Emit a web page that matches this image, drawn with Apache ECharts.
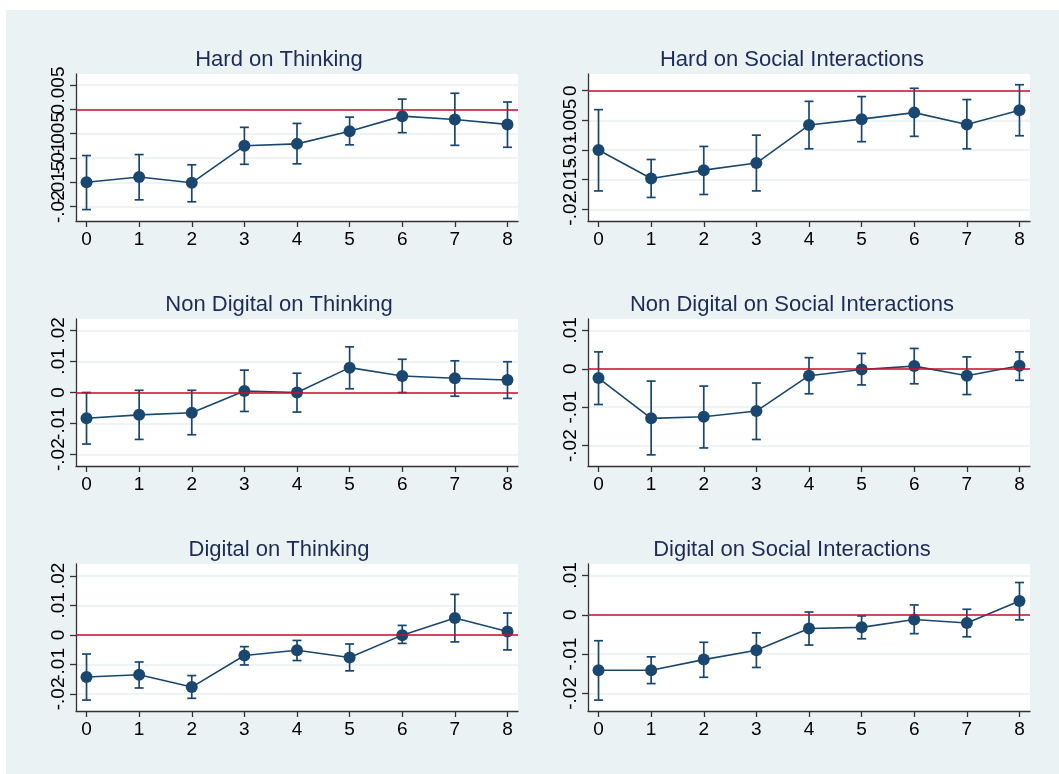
<!DOCTYPE html>
<html>
<head>
<meta charset="utf-8">
<style>
  html, body { margin: 0; padding: 0; background: #ffffff; }
  #chart { width: 1059px; height: 774px; }
</style>
<script src="https://cdn.jsdelivr.net/npm/echarts@6/dist/echarts.min.js"></script>
</head>
<body>
<div id="chart"></div>
<script>
// Event-time steps on the horizontal axis
const steps = [0, 1, 2, 3, 4, 5, 6, 7, 8];

// Panel titles
const titles = [
  'Hard on Thinking', 'Hard on Social Interactions',
  'Non Digital on Thinking', 'Non Digital on Social Interactions',
  'Digital on Thinking', 'Digital on Social Interactions'
];

// Point estimates and confidence bounds
const hardThinkingEst = [-0.0150, -0.0139, -0.0151, -0.0075, -0.0071, -0.0045, -0.0014, -0.0021, -0.0031];
const hardThinkingLo  = [-0.0206, -0.0186, -0.0190, -0.0113, -0.0112, -0.0073, -0.0048, -0.0074, -0.0078];
const hardThinkingHi  = [-0.0095, -0.0093, -0.0114, -0.0037, -0.0029, -0.0016, 0.0021, 0.0033, 0.0015];

const hardSocialEst = [-0.0100, -0.0148, -0.0134, -0.0122, -0.0058, -0.0048, -0.0037, -0.0057, -0.0033];
const hardSocialLo  = [-0.0169, -0.0180, -0.0175, -0.0169, -0.0098, -0.0086, -0.0077, -0.0098, -0.0076];
const hardSocialHi  = [-0.0032, -0.0116, -0.0094, -0.0075, -0.0018, -0.0010, 0.0004, -0.0015, 0.0010];

const nonDigitalThinkingEst = [-0.0083, -0.0072, -0.0065, 0.0005, 0.0000, 0.0080, 0.0053, 0.0046, 0.0040];
const nonDigitalThinkingLo  = [-0.0166, -0.0151, -0.0136, -0.0061, -0.0063, 0.0012, 0.0000, -0.0012, -0.0019];
const nonDigitalThinkingHi  = [0.0000, 0.0007, 0.0007, 0.0072, 0.0062, 0.0147, 0.0107, 0.0102, 0.0099];

const nonDigitalSocialEst = [-0.0024, -0.0129, -0.0125, -0.0110, -0.0018, -0.0002, 0.0007, -0.0018, 0.0008];
const nonDigitalSocialLo  = [-0.0093, -0.0224, -0.0206, -0.0184, -0.0065, -0.0042, -0.0039, -0.0067, -0.0030];
const nonDigitalSocialHi  = [0.0044, -0.0032, -0.0045, -0.0037, 0.0029, 0.0040, 0.0053, 0.0031, 0.0044];

const digitalThinkingEst = [-0.0143, -0.0135, -0.0177, -0.0070, -0.0052, -0.0077, -0.0001, 0.0057, 0.0011];
const digitalThinkingLo  = [-0.0221, -0.0180, -0.0215, -0.0102, -0.0087, -0.0122, -0.0029, -0.0024, -0.0051];
const digitalThinkingHi  = [-0.0065, -0.0092, -0.0138, -0.0040, -0.0019, -0.0031, 0.0032, 0.0137, 0.0074];

const digitalSocialEst = [-0.0141, -0.0141, -0.0114, -0.0090, -0.0035, -0.0032, -0.0012, -0.0021, 0.0035];
const digitalSocialLo  = [-0.0217, -0.0175, -0.0159, -0.0134, -0.0077, -0.0061, -0.0048, -0.0056, -0.0013];
const digitalSocialHi  = [-0.0066, -0.0107, -0.0070, -0.0046, 0.0007, -0.0003, 0.0025, 0.0014, 0.0082];

// Y tick labels per panel
const yTicks1 = [-0.02, -0.015, -0.01, -0.005, 0, 0.005];
const yTicks2 = [-0.02, -0.015, -0.01, -0.005, 0];
const yTicks3 = [-0.02, -0.01, 0, 0.01, 0.02];
const yTicks4 = [-0.02, -0.01, 0, 0.01];
const yTicks5 = [-0.02, -0.01, 0, 0.01, 0.02];
const yTicks6 = [-0.02, -0.01, 0, 0.01];

// Y ranges per panel
const yRange1 = [-0.02295, 0.00726];
const yRange2 = [-0.02197, 0.00281];
const yRange3 = [-0.02366, 0.02366];
const yRange4 = [-0.0253, 0.01296];
const yRange5 = [-0.0258, 0.0240];
const yRange6 = [-0.02447, 0.01291];

const panels = [
  { est: hardThinkingEst, lo: hardThinkingLo, hi: hardThinkingHi, ticks: yTicks1, range: yRange1 },
  { est: hardSocialEst, lo: hardSocialLo, hi: hardSocialHi, ticks: yTicks2, range: yRange2 },
  { est: nonDigitalThinkingEst, lo: nonDigitalThinkingLo, hi: nonDigitalThinkingHi, ticks: yTicks3, range: yRange3 },
  { est: nonDigitalSocialEst, lo: nonDigitalSocialLo, hi: nonDigitalSocialHi, ticks: yTicks4, range: yRange4 },
  { est: digitalThinkingEst, lo: digitalThinkingLo, hi: digitalThinkingHi, ticks: yTicks5, range: yRange5 },
  { est: digitalSocialEst, lo: digitalSocialLo, hi: digitalSocialHi, ticks: yTicks6, range: yRange6 }
];

const FONT = 'Liberation Sans, Arial, Helvetica, sans-serif';
const NAVY = '#1a476f';
const X_MIN = -0.2, X_MAX = 8.2;
const colLeft = [76, 588];
const colWidth = 442;
const rowTop = [74, 319, 564];
const rowHeight = 147;
const titleCenter = [279, 792];
const Y_LABEL_MARGIN = 8;

// Stata-style number format: drop the leading zero
function stataFmt(v) {
  const r = Math.round(v * 100000) / 100000;
  if (r === 0) return '0';
  return String(r).replace(/^(-?)0\./, '$1.');
}

const grids = [], xAxes = [], yAxes = [], series = [], titleList = [];

panels.forEach(function (p, i) {
  const col = i % 2, row = Math.floor(i / 2);
  grids.push({
    left: colLeft[col], top: rowTop[row], width: colWidth, height: rowHeight,
    show: true, backgroundColor: '#ffffff', borderWidth: 0, containLabel: false
  });
  titleList.push({
    text: titles[i], left: titleCenter[col], top: rowTop[row] - 25, textAlign: 'center',
    padding: 0,
    textStyle: { fontFamily: FONT, fontSize: 22, fontWeight: 'normal', color: '#1c2b58' }
  });
  xAxes.push({
    type: 'value', gridIndex: i, min: X_MIN, max: X_MAX,
    axisLine: { show: true, onZero: false, lineStyle: { color: '#333', width: 1.3 } },
    axisTick: { show: true, length: 6, customValues: steps, lineStyle: { color: '#333', width: 1.3 } },
    axisLabel: {
      customValues: steps, margin: 9, fontFamily: FONT, fontSize: 19, color: '#000',
      hideOverlap: false, showMinLabel: true, showMaxLabel: true
    },
    splitLine: { show: false }
  });
  yAxes.push({
    type: 'value', gridIndex: i, min: p.range[0], max: p.range[1],
    axisLine: { show: true, onZero: false, lineStyle: { color: '#333', width: 1.3 } },
    axisTick: { show: true, length: 6, customValues: p.ticks, lineStyle: { color: '#333', width: 1.3 } },
    // labels are placed as rotated text below so that overlapping ones all stay visible
    axisLabel: { show: false, customValues: p.ticks },
    splitLine: { show: true, lineStyle: { color: '#e8eff1', width: 1.6 } }
  });

  // zero reference line
  series.push({
    type: 'line', xAxisIndex: i, yAxisIndex: i, data: [], silent: true, z: 1,
    markLine: {
      silent: true, symbol: 'none', label: { show: false },
      lineStyle: { color: '#c8102e', width: 1.5, type: 'solid' },
      data: [{ yAxis: 0 }], animation: false
    }
  });

  // confidence intervals with caps
  series.push({
    type: 'custom', xAxisIndex: i, yAxisIndex: i, z: 3,
    data: steps.map(function (s, k) { return [s, p.lo[k], p.hi[k]]; }),
    renderItem: function (params, api) {
      const x = api.value(0);
      const a = api.coord([x, api.value(1)]);
      const b = api.coord([x, api.value(2)]);
      const cap = 4.5;
      const style = { stroke: NAVY, lineWidth: 1.7, fill: null };
      return {
        type: 'group',
        children: [
          { type: 'line', shape: { x1: a[0], y1: a[1], x2: b[0], y2: b[1] }, style: style },
          { type: 'line', shape: { x1: a[0] - cap, y1: a[1], x2: a[0] + cap, y2: a[1] }, style: style },
          { type: 'line', shape: { x1: b[0] - cap, y1: b[1], x2: b[0] + cap, y2: b[1] }, style: style }
        ]
      };
    },
    animation: false
  });

  // point estimates
  series.push({
    type: 'line', xAxisIndex: i, yAxisIndex: i, z: 4,
    data: steps.map(function (s, k) { return [s, p.est[k]]; }),
    symbol: 'circle', symbolSize: 12, showSymbol: true,
    itemStyle: { color: NAVY },
    lineStyle: { color: NAVY, width: 1.6 },
    animation: false
  });
});

const chart = echarts.init(document.getElementById('chart'), null, { renderer: 'canvas' });
chart.setOption({
  backgroundColor: '#ffffff',
  animation: false,
  title: titleList,
  grid: grids,
  xAxis: xAxes,
  yAxis: yAxes,
  series: series
});

// Background panel plus rotated y tick labels, positioned through each axis scale
const graphics = [{
  type: 'rect', left: 6, top: 10, z: -10,
  shape: { width: 1053, height: 764 },
  style: { fill: '#eaf2f3' }, silent: true
}];
panels.forEach(function (p, i) {
  p.ticks.forEach(function (t) {
    const pt = chart.convertToPixel({ xAxisIndex: i, yAxisIndex: i }, [X_MIN, t]);
    graphics.push({
      type: 'text', silent: true, z: 10,
      x: pt[0] - Y_LABEL_MARGIN, y: pt[1], rotation: Math.PI / 2,
      style: {
        text: stataFmt(t), fontFamily: FONT, fontSize: 19, fill: '#000',
        align: 'center', verticalAlign: 'bottom'
      }
    });
  });
});
chart.setOption({ graphic: graphics });
</script>
</body>
</html>
